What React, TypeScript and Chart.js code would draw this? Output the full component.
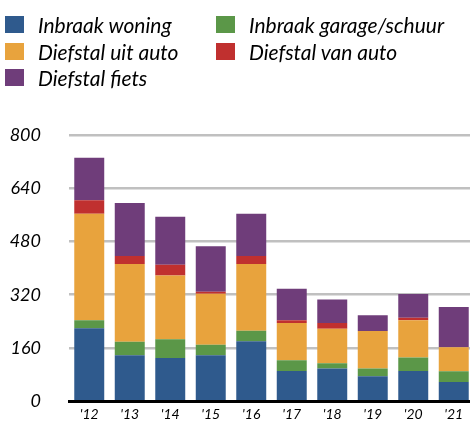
import React, { useEffect, useRef } from "react";
import { Chart, registerables } from "chart.js";

Chart.register(...registerables);

const years = ["'12", "'13", "'14", "'15", "'16", "'17", "'18", "'19", "'20", "'21"];
const inbraakWoning = [219, 138, 130, 138, 180, 91, 98, 75, 91, 58];
const inbraakGarage = [24, 41, 56, 32, 32, 32, 16, 23, 40, 32];
const diefstalUitAuto = [320, 233, 192, 153, 200, 112, 104, 113, 112, 72];
const diefstalVanAuto = [41, 24, 32, 6, 24, 8, 17, 0, 8, 0];
const diefstalFiets = [128, 160, 144, 137, 127, 95, 71, 47, 71, 121];
const yTicks = [0, 160, 320, 480, 640, 800];

const seriesNames = ["Inbraak woning", "Inbraak garage/schuur", "Diefstal uit auto", "Diefstal van auto", "Diefstal fiets"];
const seriesColors = ["#2f5a8d", "#5b9748", "#e8a33d", "#c0302f", "#6f3d7a"];
const seriesData = [inbraakWoning, inbraakGarage, diefstalUitAuto, diefstalVanAuto, diefstalFiets];

const FONT = "Lato, 'DejaVu Sans', sans-serif";

export default function App() {
  const ref = useRef<HTMLCanvasElement | null>(null);
  useEffect(() => {
    document.body.style.margin = "0";
    const ctx = ref.current!;
    const chart = new Chart(ctx, {
      type: "bar",
      data: {
        labels: years,
        datasets: seriesNames.map((name, i) => ({
          label: name,
          data: seriesData[i],
          backgroundColor: seriesColors[i],
          borderWidth: 0,
          categoryPercentage: 1,
          barPercentage: 0.74,
        })),
      },
      options: {
        animation: false,
        responsive: false,
        maintainAspectRatio: false,
        layout: { padding: { top: 135, left: 0, right: 0, bottom: 0 } },
        plugins: { legend: { display: false }, tooltip: { enabled: false } },
        scales: {
          x: {
            stacked: true,
            grid: { display: false, drawTicks: false },
            border: { display: true, color: "#000", width: 3 },
            ticks: { color: "#000", font: { family: FONT, size: 14, style: "italic" }, padding: 5 },
            afterFit: (s: any) => { s.height = 22; },
          },
          y: {
            stacked: true,
            min: 0,
            max: 800,
            afterBuildTicks: (s: any) => { s.ticks = yTicks.map((v) => ({ value: v })); },
            grid: { color: "#c0c0c0", lineWidth: 2.5, drawTicks: false },
            border: { display: false },
            ticks: { color: "#000", font: { family: FONT, size: 18, style: "italic" }, padding: 28 },
            afterFit: (s: any) => { s.width = 69; },
          },
        },
      },
    });
    return () => chart.destroy();
  }, []);

  return (
    <div style={{ position: "relative", width: 470, height: 423, overflow: "hidden", background: "#fff" }}>
      <canvas ref={ref} width={474} height={440} style={{ position: "absolute", left: 0, top: 0 }} />
      <div
        style={{
          position: "absolute",
          left: 5,
          top: 16,
          display: "grid",
          gridTemplateColumns: "211px auto",
          gridAutoRows: "26.7px",
          fontFamily: FONT,
          fontStyle: "italic",
          fontSize: 21,
          color: "#000",
        }}
      >
        {seriesNames.map((name, i) => (
          <div key={name} style={{ display: "flex", alignItems: "flex-start", height: 26.7, whiteSpace: "nowrap" }}>
            <span style={{ display: "inline-block", width: 19, height: 17, background: seriesColors[i], marginRight: 14, flex: "none" }} />
            <span style={{ lineHeight: "17px" }}>{name}</span>
          </div>
        ))}
      </div>
    </div>
  );
}
